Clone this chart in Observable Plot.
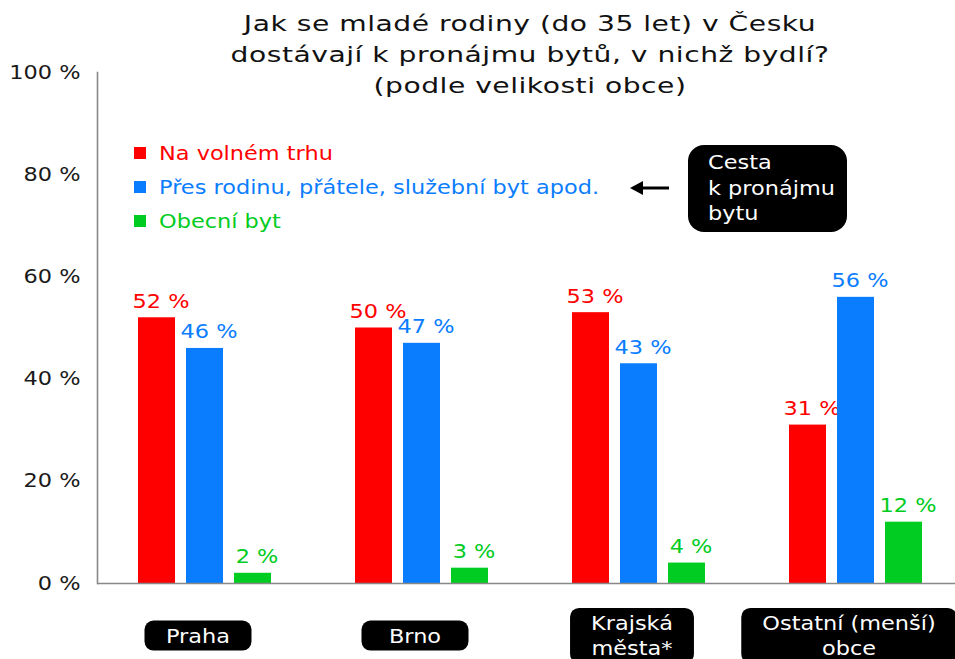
<!DOCTYPE html>
<html><head><meta charset="utf-8">
<script src="https://cdn.jsdelivr.net/npm/d3@7"></script>
<script src="https://cdn.jsdelivr.net/npm/@observablehq/plot@0.6"></script>
<style>
body{margin:0;background:#fff;}
#wrap{position:relative;width:955px;height:659px;overflow:hidden;font-family:Verdana,"DejaVu Sans",sans-serif;}
#wrap svg{position:absolute;left:0;top:0;}
.title{position:absolute;left:0;width:1060px;top:8px;text-align:center;font-size:22px;line-height:31px;color:#111;letter-spacing:0.4px;transform:scaleX(1.28);transform-origin:530px 0;}
.leg{position:absolute;left:134px;font-size:19px;white-space:nowrap;}
.leg i{display:inline-block;width:12px;height:12px;margin-right:13px;vertical-align:middle;position:relative;top:-2px;}
.leg span{display:inline-block;transform:scaleX(1.18);transform-origin:0 0;}
.note{position:absolute;left:688px;top:145px;width:159px;height:87px;background:#000;border-radius:16px;box-sizing:border-box;padding:5px 0 0 20px;}
.note div{color:#fff;font-size:19px;line-height:25.5px;transform:scaleX(1.18);transform-origin:0 0;white-space:nowrap;}
.arrow{position:absolute;left:628px;top:178px;}
</style></head><body><div id="wrap"></div>
<script>
const categories = ["Praha", "Brno", "Krajská\nměsta*", "Ostatní (menší)\nobce"];
const seriesNames = ["Na volném trhu", "Přes rodinu, přátele, služební byt apod.", "Obecní byt"];
const seriesColors = ["#ff0000", "#0a7dff", "#00cc22"];
const volnyTrh = [52, 50, 53, 31];
const rodina = [46, 47, 43, 56];
const obecni = [2, 3, 4, 12];
const yTicks = [0, 20, 40, 60, 80, 100];
const titleLines = ["Jak se mladé rodiny (do 35 let) v Česku", "dostávají k pronájmu bytů, v nichž bydlí?", "(podle velikosti obce)"];
const noteLines = ["Cesta", "k pronájmu", "bytu"];

const SX = 1.18; // horizontal stretch of the reference lettering
const seriesValues = [volnyTrh, rodina, obecni];
const rows = [];
seriesValues.forEach((vals, s) => vals.forEach((v, i) => rows.push({cat: categories[i], s, series: seriesNames[s], value: v})));
const offsets = [-48, 0, 48];
const FONT = "Verdana, 'DejaVu Sans', sans-serif";

const marks = [];
seriesNames.forEach((name, s) => {
  const data = rows.filter(d => d.s === s);
  marks.push(Plot.barY(data, {x: "cat", y: "value", fill: seriesColors[s], insetLeft: 90, insetRight: 90, dx: offsets[s]}));
  marks.push(Plot.text(data, {x: "cat", y: "value", text: d => d.value + " %", fill: seriesColors[s], dx: offsets[s] + 4, dy: -10, lineAnchor: "bottom", fontSize: 19}));
});
marks.push(Plot.ruleY([0], {stroke: "#888", strokeWidth: 1.6}));
marks.push(Plot.frame({anchor: "left", stroke: "#888", strokeWidth: 1.6}));
marks.push(Plot.text(categories, {x: d => d, y: () => 0, text: d => d, fill: "#fff", dx: -7, dy: 51, lineAnchor: "middle", lineHeight: 1.32, fontSize: 19, className: "catlabel"}));

const chart = Plot.plot({
  width: 955, height: 659,
  marginLeft: 97, marginRight: 0, marginTop: 72, marginBottom: 76,
  style: {fontFamily: FONT, fontSize: "19px", background: "transparent", overflow: "visible", color: "#1a1a1a"},
  x: {domain: categories, range: [95.5, 963.5], padding: 0, axis: null},
  y: {domain: [0, 100], ticks: yTicks, tickFormat: d => d + " %", tickSize: 0, tickPadding: 17, label: null},
  marks
});

const wrap = document.getElementById("wrap");
wrap.appendChild(chart);

// rounded boxes behind category labels (measured before stretching)
let labelGroup = chart.querySelector("g.catlabel");
if (!labelGroup) { const gs = chart.querySelectorAll('g[aria-label="text"]'); labelGroup = gs[gs.length - 1]; }
labelGroup.querySelectorAll("text").forEach(t => {
  const b = t.getBBox();
  const tw = b.width * SX;
  const w = Math.max(107, tw + 42), h = b.height + 8;
  const r = document.createElementNS("http://www.w3.org/2000/svg", "rect");
  r.setAttribute("x", (b.x + b.width / 2) * SX - w / 2);
  r.setAttribute("y", b.y + b.height / 2 - h / 2);
  r.setAttribute("width", w); r.setAttribute("height", h);
  r.setAttribute("rx", 9); r.setAttribute("fill", "#000");
  if (t.getAttribute("transform")) r.setAttribute("transform", t.getAttribute("transform"));
  t.parentNode.insertBefore(r, t);
});
// stretch all chart lettering horizontally about its anchor
chart.querySelectorAll("text").forEach(t => {
  t.setAttribute("transform", (t.getAttribute("transform") || "") + ` scale(${SX},1)`);
});

// title
const title = document.createElement("div");
title.className = "title";
title.innerHTML = titleLines.join("<br>");
wrap.appendChild(title);

// legend
const legTops = [142, 176, 210];
seriesNames.forEach((n, s) => {
  const d = document.createElement("div");
  d.className = "leg";
  d.style.top = legTops[s] + "px";
  d.style.color = seriesColors[s];
  d.innerHTML = `<i style="background:${seriesColors[s]}"></i><span>${n}</span>`;
  wrap.appendChild(d);
});

// annotation
const arrow = document.createElement("div");
arrow.className = "arrow";
arrow.innerHTML = '<svg width="44" height="20"><line x1="10" y1="10" x2="41" y2="10" stroke="#000" stroke-width="3"/><path d="M2,10 L15,3 L15,17 Z" fill="#000"/></svg>';
wrap.appendChild(arrow);
const note = document.createElement("div");
note.className = "note";
note.innerHTML = noteLines.map(l => `<div>${l}</div>`).join("");
wrap.appendChild(note);
</script></body></html>
